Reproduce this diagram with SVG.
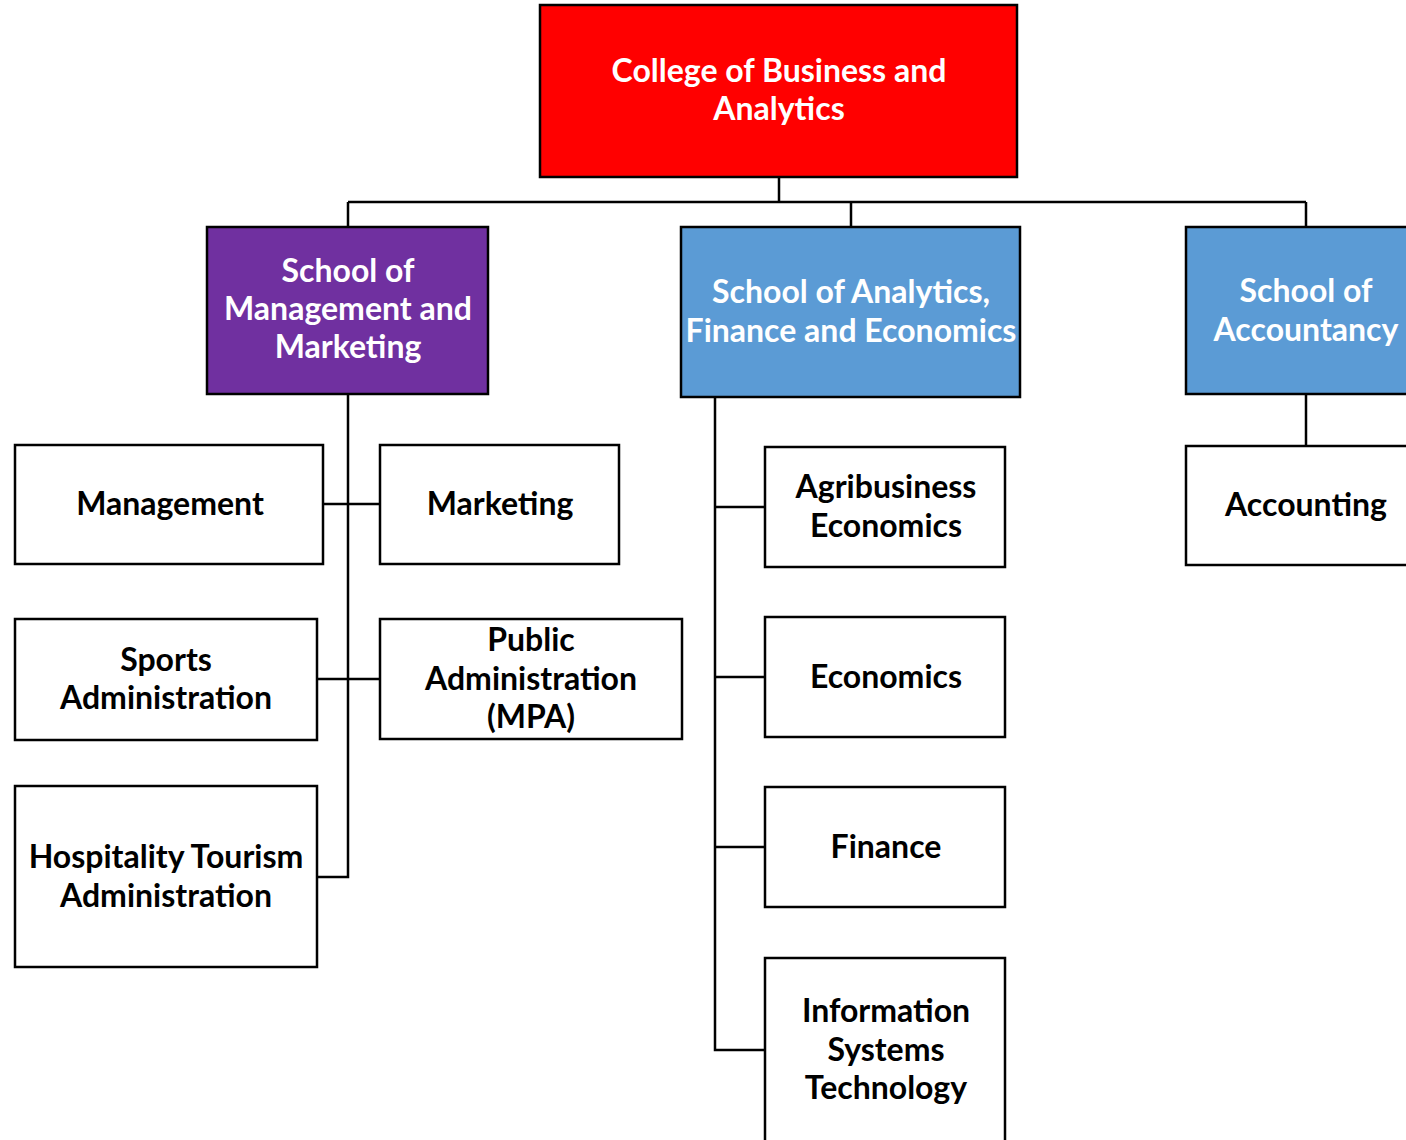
<svg xmlns="http://www.w3.org/2000/svg" width="1406" height="1140" viewBox="0 0 1406 1140">
<style>
.box{stroke:#000;stroke-width:2.5}
.w{fill:#fff}
.t{font-family:Lato,"Open Sans","Liberation Sans",sans-serif;font-weight:bold;font-size:32px;text-anchor:middle}
.tw{fill:#fff}
.tb{fill:#000}
.c{fill:none;stroke:#000;stroke-width:2.5}
</style>
<rect width="1406" height="1140" fill="#fff"/>
<g id="connectors">
<path class="c" d="M779 177V202M348 202H1306M348 202V227M851 202V227M1306 202V227"/>
<path class="c" d="M348 394V877H317M323 504H380M317 679H380"/>
<path class="c" d="M715 397V1050H765M715 507H765M715 677H765M715 847H765"/>
<path class="c" d="M1306 394V446"/>
</g>
<g id="college">
<rect class="box" x="540" y="5" width="477" height="172" fill="#ff0000"/>
<text class="t tw" x="779" y="82">College of Business and</text>
<text class="t tw" x="779" y="120">Analytics</text>
</g>
<g id="school-mm">
<rect class="box" x="207" y="227" width="281" height="167" fill="#7030a0"/>
<text class="t tw" x="348" y="282">School of</text>
<text class="t tw" x="348" y="320">Management and</text>
<text class="t tw" x="348" y="358">Marketing</text>
</g>
<g id="school-afe">
<rect class="box" x="681" y="227" width="339" height="170" fill="#5b9bd5"/>
<text class="t tw" x="851" y="303">School of Analytics,</text>
<text class="t tw" x="851" y="342">Finance and Economics</text>
</g>
<g id="school-acc">
<rect class="box" x="1186" y="227" width="230" height="167" fill="#5b9bd5"/>
<text class="t tw" x="1306" y="302">School of</text>
<text class="t tw" x="1306" y="341">Accountancy</text>
</g>
<g id="management">
<rect class="box w" x="15" y="445" width="308" height="119"/>
<text class="t tb" x="170" y="515">Management</text>
</g>
<g id="marketing">
<rect class="box w" x="380" y="445" width="239" height="119"/>
<text class="t tb" x="500" y="515">Marketing</text>
</g>
<g id="sports">
<rect class="box w" x="15" y="619" width="302" height="121"/>
<text class="t tb" x="166" y="671">Sports</text>
<text class="t tb" x="166" y="709">Administration</text>
</g>
<g id="mpa">
<rect class="box w" x="380" y="619" width="302" height="120"/>
<text class="t tb" x="531" y="651">Public</text>
<text class="t tb" x="531" y="690">Administration</text>
<text class="t tb" x="531" y="728">(MPA)</text>
</g>
<g id="hospitality">
<rect class="box w" x="15" y="786" width="302" height="181"/>
<text class="t tb" x="166" y="868">Hospitality Tourism</text>
<text class="t tb" x="166" y="907">Administration</text>
</g>
<g id="agribusiness">
<rect class="box w" x="765" y="447" width="240" height="120"/>
<text class="t tb" x="886" y="498">Agribusiness</text>
<text class="t tb" x="886" y="537">Economics</text>
</g>
<g id="economics">
<rect class="box w" x="765" y="617" width="240" height="120"/>
<text class="t tb" x="886" y="688">Economics</text>
</g>
<g id="finance">
<rect class="box w" x="765" y="787" width="240" height="120"/>
<text class="t tb" x="886" y="858">Finance</text>
</g>
<g id="ist">
<rect class="box w" x="765" y="958" width="240" height="200"/>
<text class="t tb" x="886" y="1022">Information</text>
<text class="t tb" x="886" y="1061">Systems</text>
<text class="t tb" x="886" y="1099">Technology</text>
</g>
<g id="accounting">
<rect class="box w" x="1186" y="446" width="230" height="119"/>
<text class="t tb" x="1306" y="516">Accounting</text>
</g>
</svg>
